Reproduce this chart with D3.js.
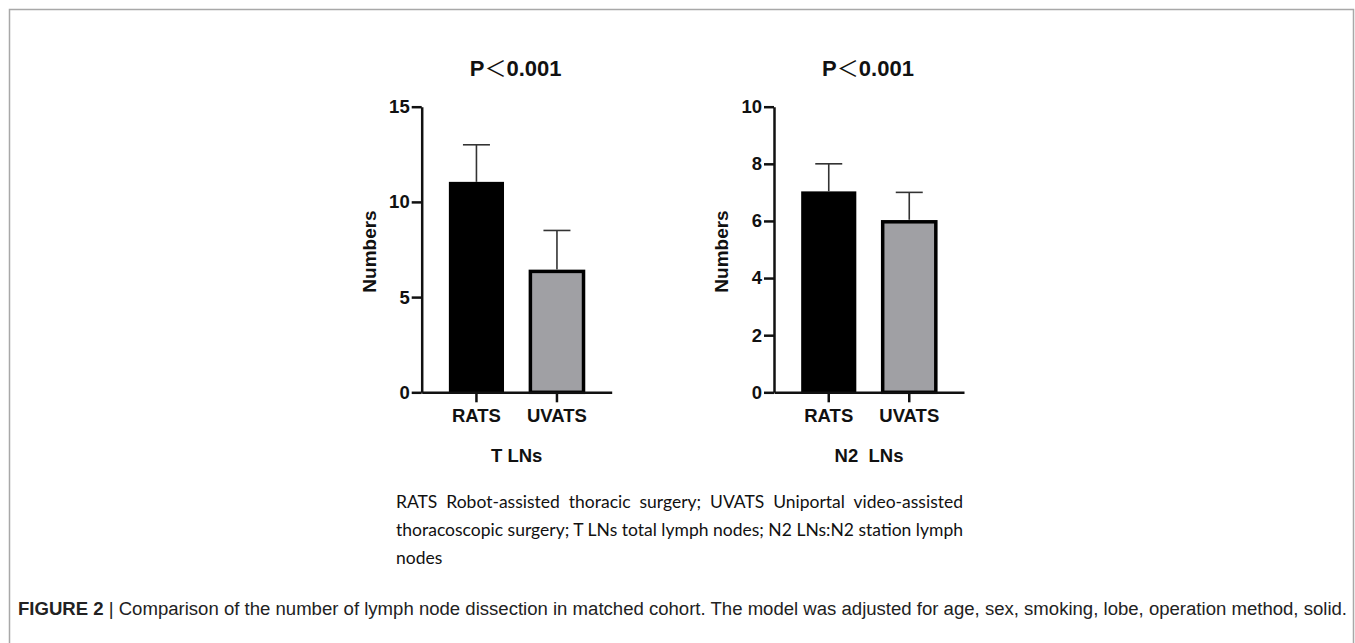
<!DOCTYPE html>
<html>
<head>
<meta charset="utf-8">
<script src="https://cdn.jsdelivr.net/npm/d3@7"></script>
<style>
  body { margin: 0; background: #fff; }
  #wrap { position: relative; width: 1355px; height: 643px; overflow: hidden; }
  svg { position: absolute; left: 0; top: 0; }
  .note { position: absolute; left: 396px; width: 567px; font-family: Lato, "Open Sans", sans-serif;
          font-size: 17.5px; color: #111; line-height: 28px; }
  .note .ln { text-align: justify; text-align-last: justify; white-space: nowrap; }
  .note .ln.last { text-align-last: left; }
  .axis text { font-family: "Liberation Sans", Arial, sans-serif; font-weight: bold; font-size: 18.5px; fill: #111; }
  .axis path, .axis line { stroke: #111; stroke-width: 2.5px; }
</style>
</head>
<body>
<div id="wrap"></div>
<script>
// data
const groups = ["RATS", "UVATS"];
const totalMeans = [11, 6.35];
const totalUpper = [13, 8.5];
const n2Means = [7, 5.97];
const n2Upper = [8, 7];
const totalTicks = [0, 5, 10, 15];
const n2Ticks = [0, 2, 4, 6, 8, 10];
const barColors = ["#000000", "#a0a0a4"];

const noteLines = [
    "RATS Robot-assisted thoracic surgery; UVATS Uniportal video-assisted",
    "thoracoscopic surgery; T LNs total lymph nodes; N2 LNs:N2 station lymph",
    "nodes"
];
const pTitle = ["P", "\uFF1C", "0.001"];
const figLabel = "FIGURE 2";
const figText = "Comparison of the number of lymph node dissection in matched cohort. The model was adjusted for age, sex, smoking, lobe, operation method, solid.";

const W = 1355, H = 643;
const wrap = d3.select("#wrap");
const svg = wrap.append("svg").attr("width", W).attr("height", H);

// frame
svg.append("path")
    .attr("d", "M9.5,660 V9.5 H1353.5 V660")
    .attr("fill", "none")
    .attr("stroke", "#a8a8a8")
    .attr("stroke-width", 1.5);

function drawPanel(left, maxY, ticks, means, upper, title, xTitle) {
    const plotW = 190, top = 106.7, bottom = 392.3;
    const g = svg.append("g").attr("transform", "translate(" + left + ",0)");

    const x = d3.scaleBand()
        .domain(groups)
        .range([0, plotW])
        .paddingInner(0.34)
        .paddingOuter(0.35);

    const y = d3.scaleLinear()
        .domain([0, maxY])
        .range([bottom, top]);

    // bars
    g.selectAll(".bar")
        .data(groups)
        .enter().append("rect")
        .attr("class", "bar")
        .attr("x", d => x(d))
        .attr("width", x.bandwidth())
        .attr("y", (d, i) => y(means[i]))
        .attr("height", (d, i) => y(0) - y(means[i]))
        .attr("fill", (d, i) => barColors[i])
        .attr("stroke", "#000")
        .attr("stroke-width", (d, i) => i === 0 ? 2 : 3.5);

    // error bars (upper only)
    const capW = 27;
    groups.forEach((d, i) => {
        const cx = x(d) + x.bandwidth() / 2;
        g.append("line")
            .attr("x1", cx).attr("x2", cx)
            .attr("y1", y(means[i]) - (i === 0 ? 1 : 2)).attr("y2", y(upper[i]))
            .attr("stroke", "#333").attr("stroke-width", 1.6);
        g.append("line")
            .attr("x1", cx - capW / 2).attr("x2", cx + capW / 2)
            .attr("y1", y(upper[i])).attr("y2", y(upper[i]))
            .attr("stroke", "#333").attr("stroke-width", 1.6);
    });

    // axes
    const yAxis = d3.axisLeft(y)
        .tickValues(ticks)
        .tickSize(10)
        .tickSizeOuter(0)
        .tickPadding(2);
    g.append("g").attr("class", "axis y-axis").call(yAxis);

    const xAxis = d3.axisBottom(x)
        .tickSize(10)
        .tickSizeOuter(0)
        .tickPadding(7);
    g.append("g").attr("class", "axis x-axis")
        .attr("transform", "translate(0," + bottom + ")")
        .call(xAxis);

    // y title
    g.append("text")
        .attr("transform", "translate(" + (-51) + "," + ((top + bottom) / 2 + 2) + ") rotate(-90)")
        .attr("text-anchor", "middle")
        .attr("dominant-baseline", "middle")
        .style("font-family", "'Liberation Sans', Arial, sans-serif")
        .style("font-weight", "bold")
        .style("font-size", "19px")
        .style("fill", "#111")
        .text("Numbers");

    // panel title, the "<" is a full-width glyph
    const t = g.append("text")
        .attr("x", plotW / 2 - 1)
        .attr("y", 76)
        .attr("text-anchor", "middle")
        .style("font-family", "'Liberation Sans', Arial, sans-serif")
        .style("font-weight", "bold")
        .style("font-size", "22px")
        .style("fill", "#111");
    t.selectAll("tspan")
        .data(title)
        .enter().append("tspan")
        .style("font-family", (d, i) => i === 1 ? "'Noto Sans CJK SC', sans-serif" : null)
        .style("font-weight", (d, i) => i === 1 ? "normal" : null)
        .text(d => d);

    // x title
    g.append("text")
        .attr("x", plotW / 2)
        .attr("y", 462)
        .attr("text-anchor", "middle")
        .attr("xml:space", "preserve")
        .style("white-space", "pre")
        .style("font-family", "'Liberation Sans', Arial, sans-serif")
        .style("font-weight", "bold")
        .style("font-size", "18.5px")
        .style("fill", "#111")
        .text(xTitle);
}

drawPanel(421.7, 15, totalTicks, totalMeans, totalUpper, pTitle, "T LNs");
drawPanel(774, 10, n2Ticks, n2Means, n2Upper, pTitle, "N2  LNs");

// note paragraph
const note = wrap.append("div").attr("class", "note").style("top", "488px");
note.selectAll("div")
    .data(noteLines)
    .enter().append("div")
    .attr("class", (d, i) => i === noteLines.length - 1 ? "ln last" : "ln")
    .text(d => d);

// figure caption
const cap = svg.append("text")
    .attr("x", 18)
    .attr("y", 615)
    .attr("textLength", 1329)
    .attr("lengthAdjust", "spacingAndGlyphs")
    .style("font-family", "'Liberation Sans Narrow', 'Liberation Sans', Arial, sans-serif")
    .style("font-size", "18px")
    .style("fill", "#222");
cap.append("tspan").style("font-weight", "bold").text(figLabel);
cap.append("tspan").text(" | " + figText);
</script>
</body>
</html>
